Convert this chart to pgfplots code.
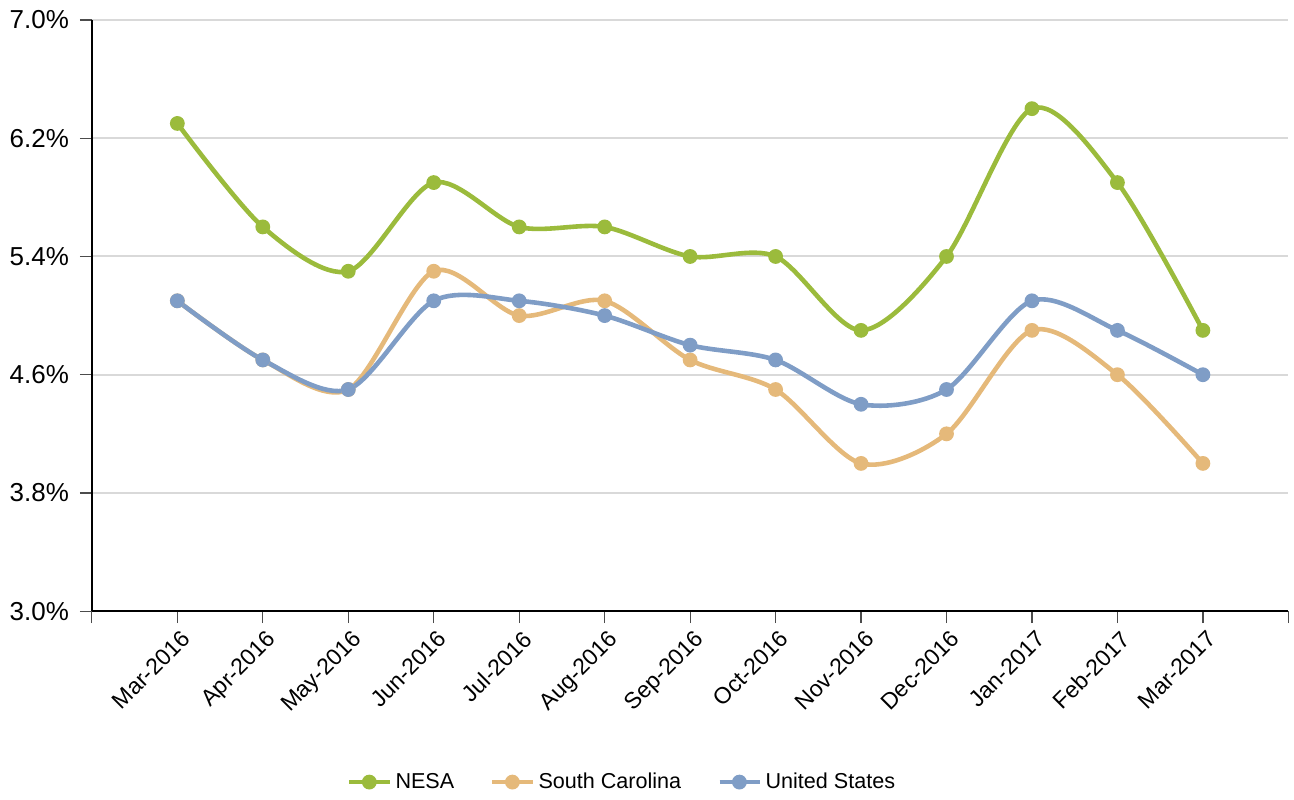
\documentclass[border=0pt]{standalone}
\usepackage{pgfplots}
\pgfplotsset{compat=1.18}
\usepackage{fontspec}
\setmainfont{Liberation Sans}
\definecolor{cgreen}{RGB}{155,187,60}
\definecolor{ctan}{RGB}{229,185,122}
\definecolor{cblue}{RGB}{127,157,198}
\definecolor{cgrid}{RGB}{217,217,217}
\begin{document}
\begin{tikzpicture}
\begin{axis}[
  scale only axis,
  width=599pt, height=296pt,
  xmin=-1, xmax=13,
  ymin=3, ymax=7,
  axis x line*=bottom, axis y line*=left,
  axis line style={-, line width=1.1pt, black},
  tick align=outside,
  major tick length=6pt,
  tick style={line width=0.6pt, black!70},
  xtick={0,...,12},
  extra x ticks={-1,13},
  extra x tick labels={},
  xticklabels={Mar-2016,Apr-2016,May-2016,Jun-2016,Jul-2016,Aug-2016,Sep-2016,Oct-2016,Nov-2016,Dec-2016,Jan-2017,Feb-2017,Mar-2017},
  xticklabel style={rotate=45, anchor=north east, font=\fontsize{11.5}{13}\selectfont, inner sep=1pt, yshift=-2pt},
  ytick={3,3.8,4.6,5.4,6.2,7},
  yticklabel={\pgfmathprintnumber[fixed,fixed zerofill,precision=1]{\tick}\%},
  yticklabel style={font=\fontsize{13}{15}\selectfont, xshift=-2pt},
  /pgf/number format/assume math mode=true,
  ymajorgrids,
  major grid style={cgrid, line width=1pt},
  clip=false,
  legend style={at={(0.444,-0.289)}, anchor=center, draw=none, legend columns=-1,
    font=\fontsize{10.8}{12}\selectfont,
    /tikz/every even column/.append style={column sep=16pt}},
  legend image code/.code={\draw[#1, mark repeat=2, mark phase=2] plot coordinates {(0cm,0cm) (0.35cm,0cm) (0.7cm,0cm)};},
]
\addplot[cgreen, line width=2.3pt, smooth, tension=0.5, mark=*, mark size=3.1pt, mark options={fill=cgreen, draw=cgreen, line width=1.2pt}] coordinates {
(0,6.3) (1,5.6) (2,5.3) (3,5.9) (4,5.6) (5,5.6) (6,5.4) (7,5.4) (8,4.9) (9,5.4) (10,6.4) (11,5.9) (12,4.9)};
\addlegendentry{NESA}
\addplot[ctan, line width=2.3pt, smooth, tension=0.5, mark=*, mark size=3.1pt, mark options={fill=ctan, draw=ctan, line width=1.2pt}] coordinates {
(0,5.1) (1,4.7) (2,4.5) (3,5.3) (4,5.0) (5,5.1) (6,4.7) (7,4.5) (8,4.0) (9,4.2) (10,4.9) (11,4.6) (12,4.0)};
\addlegendentry{South Carolina}
\addplot[cblue, line width=2.3pt, smooth, tension=0.5, mark=*, mark size=3.1pt, mark options={fill=cblue, draw=cblue, line width=1.2pt}] coordinates {
(0,5.1) (1,4.7) (2,4.5) (3,5.1) (4,5.1) (5,5.0) (6,4.8) (7,4.7) (8,4.4) (9,4.5) (10,5.1) (11,4.9) (12,4.6)};
\addlegendentry{United States}
\path (rel axis cs:-0.0768,-0.3125) rectangle (rel axis cs:1.0033,1.0338);
\end{axis}
\end{tikzpicture}
\end{document}
